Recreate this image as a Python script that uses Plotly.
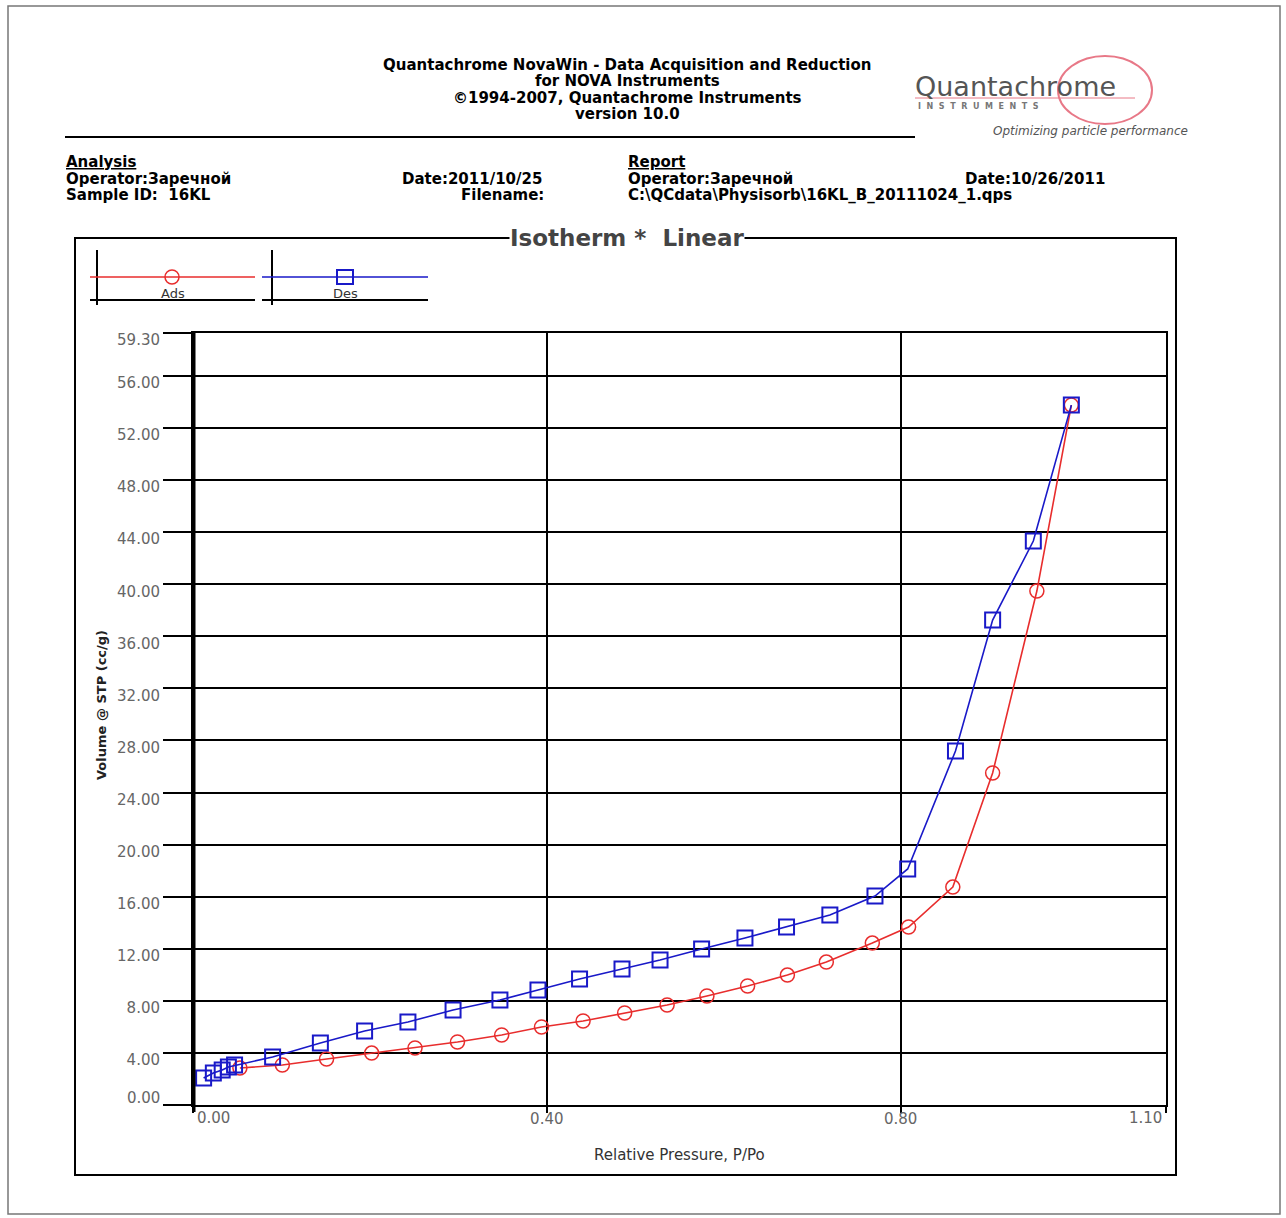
import plotly.graph_objects as go

# Isotherm data: relative pressure P/Po and volume adsorbed @ STP (cc/g)
ads_p = [0.053, 0.101, 0.151, 0.202, 0.251, 0.299, 0.349, 0.394, 0.441, 0.488,
         0.536, 0.581, 0.627, 0.672, 0.716, 0.768, 0.809, 0.859, 0.904, 0.954, 0.993]
ads_v = [2.84, 3.07, 3.53, 3.99, 4.38, 4.84, 5.38, 5.99, 6.45, 7.07,
         7.68, 8.37, 9.14, 9.98, 10.98, 12.44, 13.67, 16.74, 25.50, 39.48, 53.76]

des_p = [0.993, 0.950, 0.904, 0.862, 0.808, 0.771, 0.720, 0.671, 0.624, 0.575,
         0.528, 0.485, 0.437, 0.390, 0.347, 0.294, 0.243, 0.194, 0.144, 0.090,
         0.047, 0.040, 0.033, 0.023, 0.012]
des_v = [53.76, 43.32, 37.25, 27.19, 18.13, 16.05, 14.59, 13.67, 12.83, 11.98,
         11.14, 10.45, 9.68, 8.83, 8.06, 7.30, 6.37, 5.68, 4.76, 3.69,
         3.07, 2.92, 2.69, 2.46, 2.07]

y_ticks = [0, 4, 8, 12, 16, 20, 24, 28, 32, 36, 40, 44, 48, 52, 56, 59.3]
y_tick_text = [""] + ["%.2f" % v for v in y_ticks[1:]]
x_ticks = [0.0, 0.4, 0.8, 1.1]
x_tick_text = ["", "0.40", "0.80", ""]

RED = "rgb(232,45,45)"
BLUE = "rgb(25,25,200)"
PINK = "rgb(232,120,135)"
FONT = "DejaVu Sans"

W, H = 1286, 1218


def fx(p):
    return p / W


def fy(p):
    return 1 - p / H


fig = go.Figure()
fig.add_trace(go.Scatter(
    x=ads_p, y=ads_v, mode="lines+markers", name="Ads",
    line=dict(color=RED, width=1.6),
    marker=dict(symbol="circle-open", size=14, color=RED, line=dict(width=1.5)),
))
fig.add_trace(go.Scatter(
    x=des_p, y=des_v, mode="lines+markers", name="Des",
    line=dict(color=BLUE, width=1.6),
    marker=dict(symbol="square-open", size=15, color=BLUE, line=dict(width=2)),
))

shapes = []


def line(x0, y0, x1, y1, color="black", width=2):
    shapes.append(dict(type="line", xref="paper", yref="paper",
                       x0=fx(x0), y0=fy(y0), x1=fx(x1), y1=fy(y1),
                       line=dict(color=color, width=width)))


# page border
shapes.append(dict(type="rect", xref="paper", yref="paper",
                   x0=fx(8), y0=fy(6), x1=fx(1280), y1=fy(1214),
                   line=dict(color="#777", width=1.5)))
# rule under the header
line(65, 137, 915, 137, width=2)
# chart frame
shapes.append(dict(type="rect", xref="paper", yref="paper",
                   x0=fx(75), y0=fy(238), x1=fx(1176), y1=fy(1175),
                   line=dict(color="black", width=2)))
# heavy axis at P/Po = 0
shapes.append(dict(type="line", xref="x", yref="paper",
                   x0=0, x1=0, y0=fy(1112), y1=fy(333),
                   line=dict(color="black", width=5)))
# legend box
line(97, 250, 97, 305)
line(272, 250, 272, 305)
line(90, 300, 255, 300)
line(262, 300, 428, 300)
line(90, 277, 255, 277, color=RED, width=1.5)
line(262, 277, 428, 277, color=BLUE, width=1.5)
shapes.append(dict(type="circle", xref="paper", yref="paper",
                   x0=fx(165), x1=fx(179), y0=fy(270), y1=fy(284),
                   line=dict(color=RED, width=1.5)))
shapes.append(dict(type="rect", xref="paper", yref="paper",
                   x0=fx(337), x1=fx(353), y0=fy(270), y1=fy(284),
                   line=dict(color=BLUE, width=2)))
# logo swoosh
shapes.append(dict(type="circle", xref="paper", yref="paper",
                   x0=fx(1058), x1=fx(1152), y0=fy(56), y1=fy(124),
                   line=dict(color=PINK, width=2)))
line(915, 98, 1135, 98, color=PINK, width=1)

annotations = []


def text(t, x, y, size=13, color="black", xanchor="left", bold=False,
         family=FONT, **kw):
    if bold:
        t = "<b>%s</b>" % t
    annotations.append(dict(text=t, x=fx(x), y=fy(y), xref="paper", yref="paper",
                            xanchor=xanchor, yanchor="middle", showarrow=False,
                            font=dict(family=family, size=size, color=color), **kw))


header = ["Quantachrome NovaWin - Data Acquisition and Reduction",
          "for NOVA Instruments",
          "\u00a91994-2007, Quantachrome Instruments",
          "version 10.0"]
for i, h in enumerate(header):
    text(h, 627, 65 + 16.5 * i, size=15, xanchor="center", bold=True)

INFO = 15
name = "Operator:\u0417\u0430\u0440\u0435\u0447\u043d\u043e\u0439"
text("<u>Analysis</u>", 64, 162, size=INFO, bold=True)
text(name, 64, 179, size=INFO, bold=True)
text("Sample ID:  16KL", 64, 195, size=INFO, bold=True)
text("Date:2011/10/25", 400, 179, size=INFO, bold=True)
text("Filename:", 546, 195, size=INFO, xanchor="right", bold=True)
text("<u>Report</u>", 626, 162, size=INFO, bold=True)
text(name, 626, 179, size=INFO, bold=True)
text("Date:10/26/2011", 963, 179, size=INFO, bold=True)
text("C:\\QCdata\\Physisorb\\16KL_B_20111024_1.qps", 626, 195, size=INFO, bold=True)

# logo
text("Quantachrome", 913, 87, size=27, color="#555")
text("I  N  S  T  R  U  M  E  N  T  S", 916, 106, size=8, color="#777", bold=True)
text("<i>Optimizing particle performance</i>", 1190, 131, size=12,
     color="#555", xanchor="right")

# chart title sits on the frame
annotations.append(dict(text="<b>Isotherm *  Linear</b>", x=fx(627), y=fy(238),
                        xref="paper", yref="paper", xanchor="center",
                        yanchor="middle", showarrow=False, bgcolor="white",
                        borderpad=0,
                        font=dict(family=FONT, size=23, color="#444")))
# legend labels
text("Ads", 173, 293, size=13, color="#333", xanchor="center")
text("Des", 345, 293, size=13, color="#333", xanchor="center")

# axis titles
text("Relative Pressure, P/Po", 680, 1155, size=15, color="#333",
     xanchor="center")
annotations.append(dict(text="<b>Volume @ STP (cc/g)</b>", x=fx(101), y=fy(705),
                        xref="paper", yref="paper", xanchor="center",
                        yanchor="middle", showarrow=False, textangle=-90,
                        font=dict(family=FONT, size=13, color="#222")))

# end tick labels placed inside the axis span
TICK_FONT = dict(family=FONT, size=15, color="#666")
annotations.append(dict(text="0.00", x=0, y=fy(1118), xref="x", yref="paper",
                        xanchor="left", yanchor="middle", xshift=2,
                        showarrow=False, font=TICK_FONT))
annotations.append(dict(text="1.10", x=1.1, y=fy(1118), xref="x", yref="paper",
                        xanchor="right", yanchor="middle", xshift=-2,
                        showarrow=False, font=TICK_FONT))
annotations.append(dict(text="0.00", x=fx(162), y=0, xref="paper", yref="y",
                        xanchor="right", yanchor="middle", yshift=7,
                        showarrow=False, font=TICK_FONT))

fig.update_layout(
    width=W, height=H,
    margin=dict(l=0, r=0, t=0, b=0),
    paper_bgcolor="white", plot_bgcolor="white",
    showlegend=False,
    shapes=shapes,
    annotations=annotations,
    xaxis=dict(
        domain=[fx(193), fx(1166)],
        range=[0, 1.1],
        tickvals=x_ticks, ticktext=x_tick_text,
        ticks="outside", ticklen=6, tickwidth=2, tickcolor="black",
        tickfont=TICK_FONT, ticklabelstandoff=-7,
        showgrid=True, gridcolor="black", gridwidth=2,
        showline=True, linecolor="black", linewidth=2, mirror=True,
        zeroline=False, fixedrange=True, automargin=False,
    ),
    yaxis=dict(
        domain=[fy(1105), fy(333)],
        range=[0, 59.3],
        tickvals=y_ticks, ticktext=y_tick_text,
        ticks="outside", ticklen=28, tickwidth=2, tickcolor="black",
        tickfont=TICK_FONT,
        ticklabelshift=7, ticklabelstandoff=0,
        showgrid=True, gridcolor="black", gridwidth=2,
        showline=True, linecolor="black", linewidth=2, mirror=True,
        zeroline=False, fixedrange=True, automargin=False,
    ),
)

fig.write_html("out.html")
